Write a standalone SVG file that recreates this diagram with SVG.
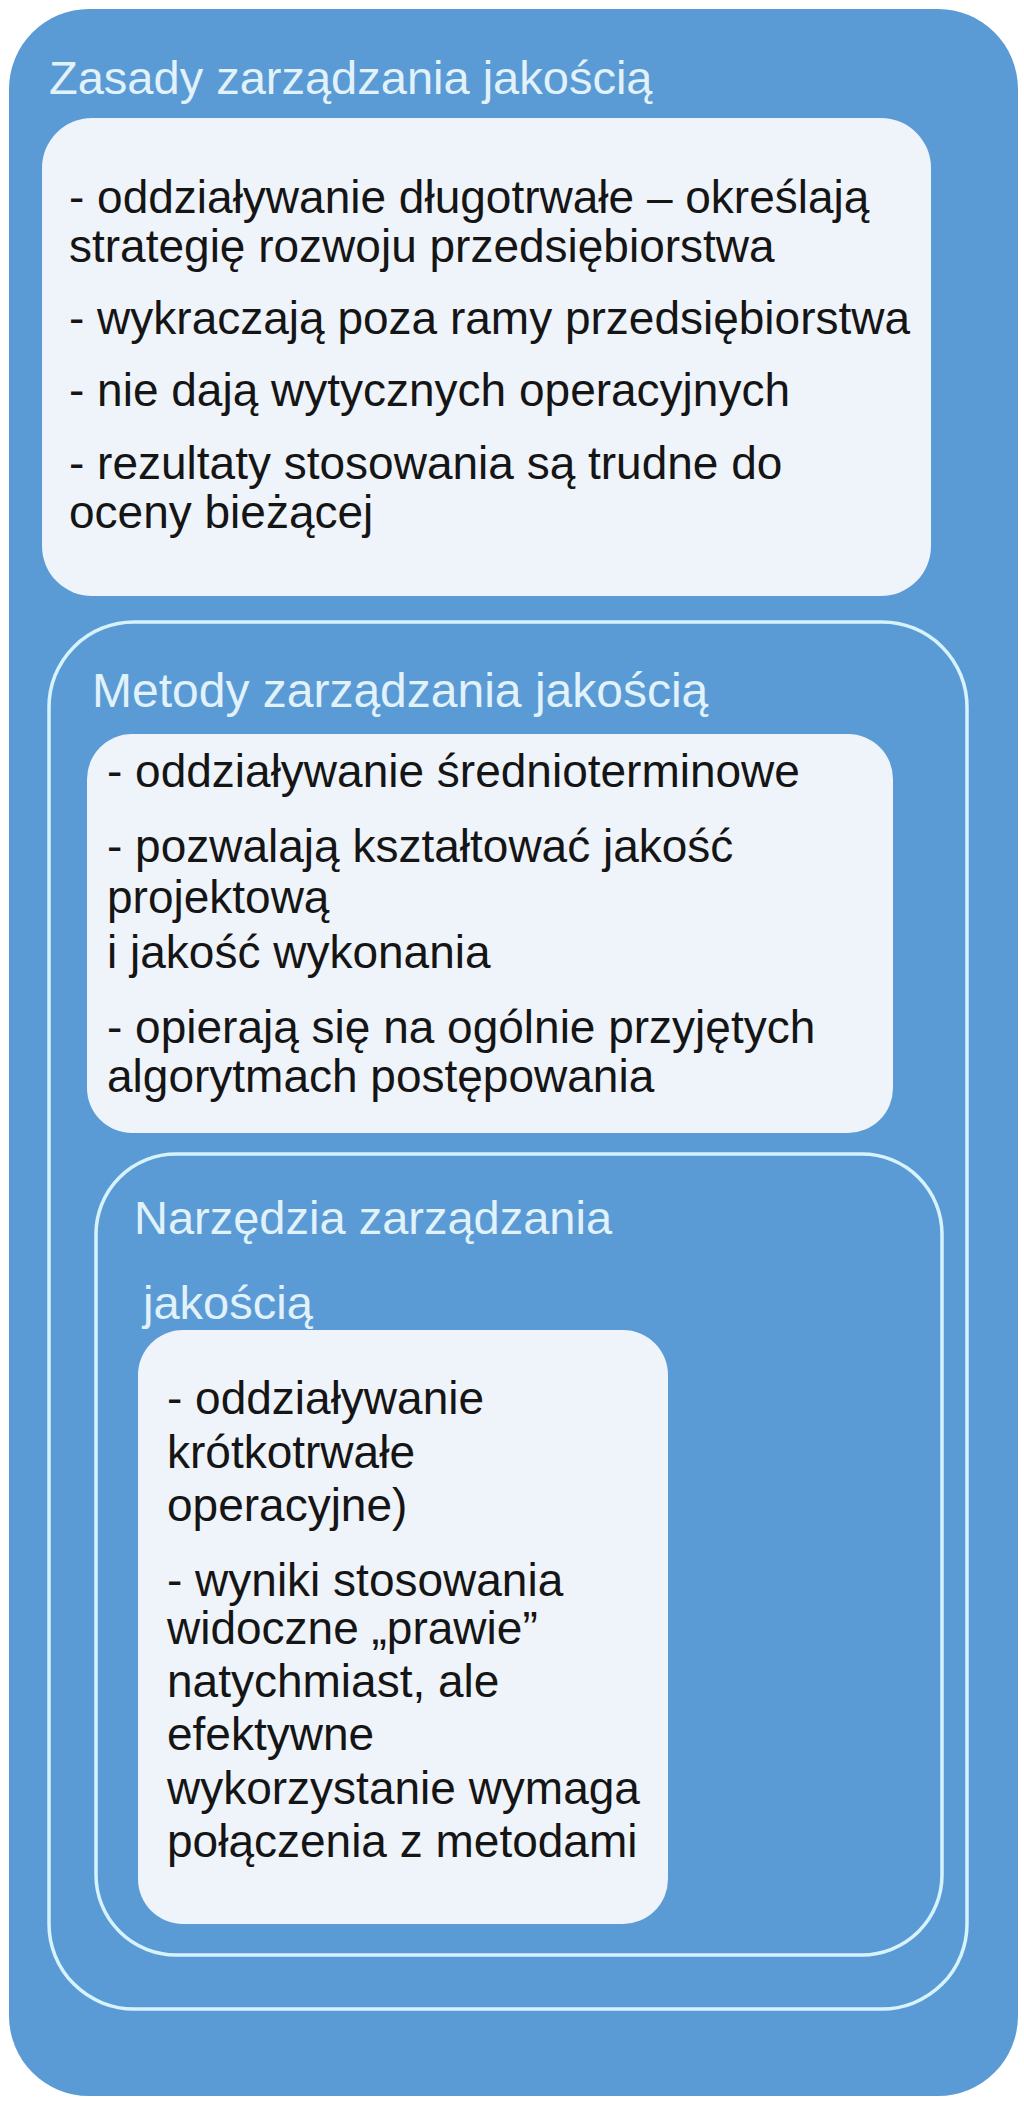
<svg xmlns="http://www.w3.org/2000/svg" width="1024" height="2106" viewBox="0 0 1024 2106">
  <style>
    .outer { fill: #5b9bd5; }
    .panel { fill: #eff3fa; }
    .frame { fill: none; stroke: #d6f3ff; stroke-width: 3.5; }
    .title { font-family: "Liberation Sans", Arial, sans-serif; font-size: 47px; fill: #e1f2fb; }
    .body { font-family: "Liberation Sans", Arial, sans-serif; font-size: 46px; fill: #151515; }
  </style>
  <rect width="1024" height="2106" fill="#ffffff"/>

  <g id="zasady">
    <rect class="outer" x="9" y="9" width="1009" height="2087" rx="80" ry="80"/>
    <text class="title" x="49" y="94">Zasady zarządzania jakością</text>
    <rect class="panel" x="42" y="118" width="889" height="478" rx="50" ry="50"/>
    <text class="body" x="69" y="213">- oddziaływanie długotrwałe – określają</text>
    <text class="body" x="69" y="262">strategię rozwoju przedsiębiorstwa</text>
    <text class="body" x="69" y="334">- wykraczają poza ramy przedsiębiorstwa</text>
    <text class="body" x="69" y="406">- nie dają wytycznych operacyjnych</text>
    <text class="body" x="69" y="479">- rezultaty stosowania są trudne do</text>
    <text class="body" x="69" y="528">oceny bieżącej</text>
  </g>

  <g id="metody">
    <rect class="frame" x="49" y="622" width="918" height="1387" rx="85" ry="85"/>
    <text class="title" x="92" y="707" style="font-size:48px">Metody zarządzania jakością</text>
    <rect class="panel" x="87" y="734" width="806" height="399" rx="45" ry="45"/>
    <text class="body" x="107" y="787">- oddziaływanie średnioterminowe</text>
    <text class="body" x="107" y="862">- pozwalają kształtować jakość</text>
    <text class="body" x="107" y="913">projektową</text>
    <text class="body" x="107" y="968">i jakość wykonania</text>
    <text class="body" x="107" y="1043">- opierają się na ogólnie przyjętych</text>
    <text class="body" x="107" y="1092">algorytmach postępowania</text>
  </g>

  <g id="narzedzia">
    <rect class="frame" x="96" y="1154" width="846" height="801" rx="80" ry="80"/>
    <text class="title" x="134" y="1234">Narzędzia zarządzania</text>
    <text class="title" x="143" y="1319">jakością</text>
    <rect class="panel" x="138" y="1330" width="530" height="594" rx="45" ry="45"/>
    <text class="body" x="167" y="1414">- oddziaływanie</text>
    <text class="body" x="167" y="1468">krótkotrwałe</text>
    <text class="body" x="167" y="1521">operacyjne)</text>
    <text class="body" x="167" y="1596">- wyniki stosowania</text>
    <text class="body" x="167" y="1644">widoczne „prawie”</text>
    <text class="body" x="167" y="1697">natychmiast, ale</text>
    <text class="body" x="167" y="1750">efektywne</text>
    <text class="body" x="167" y="1804">wykorzystanie wymaga</text>
    <text class="body" x="167" y="1857">połączenia z metodami</text>
  </g>

  <g id="connectors"></g>
</svg>
